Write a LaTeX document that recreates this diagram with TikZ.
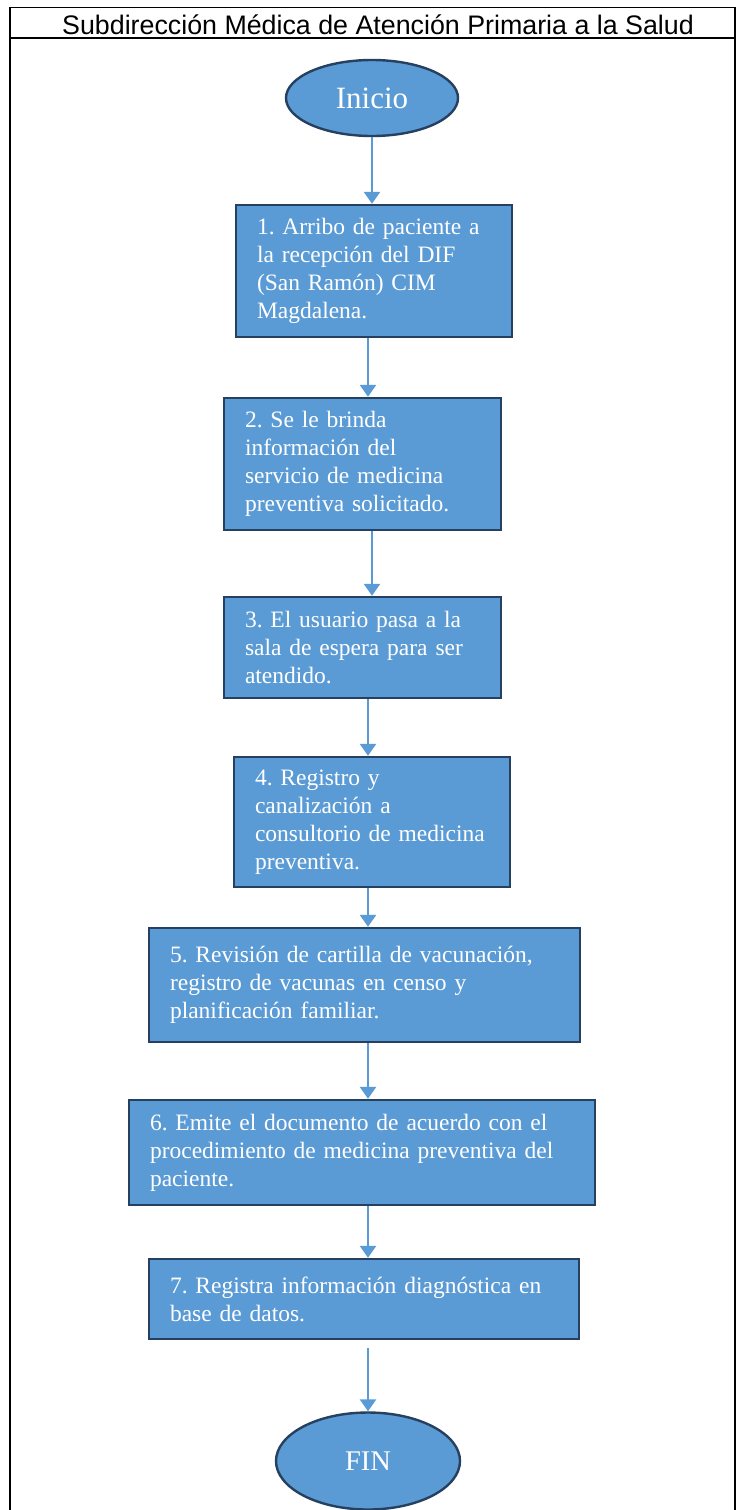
\documentclass[tikz,border=0pt]{standalone}
\usepackage{fontspec}
\usepackage{xcolor}
\usepackage{tikz}
\usetikzlibrary{arrows.meta}
\usetikzlibrary{shapes}
\usetikzlibrary{positioning}
\setmainfont{Liberation Serif}
\newfontfamily\headfont{Liberation Sans}
\definecolor{boxblue}{HTML}{5B9BD5}
\definecolor{boxline}{RGB}{38,64,96}
\frenchspacing

\begin{document}
\begin{tikzpicture}[x=1pt,y=-1pt,
		frame/.style={line width=1.8pt,black},
		stepbox/.style={draw=boxline,fill=boxblue,line width=2.4pt,text=white,align=left,
			inner xsep=21pt,inner ysep=0pt,font=\fontsize{23.5}{28}\selectfont},
		term/.style={ellipse,draw=boxline,fill=boxblue,line width=2.4pt,text=white,inner sep=0pt},
		flow/.style={boxblue,line width=2.6pt,-{Triangle[length=12pt,width=16pt]}}]
			\useasboundingbox (0,0) rectangle (736,1510);
			\fill[white] (0,0) rectangle (736,1510);

			\draw[frame] (10,1512) -- (10,7.5) -- (735,7.5) -- (735,1512);
			\draw[frame] (10,38) -- (735,38);
			\node[anchor=base,inner sep=0pt] (head) at (378,34) {\headfont\fontsize{26.8}{30}\selectfont Subdirección Médica de Atención Primaria a la Salud};

			\node[term,minimum width=172pt,minimum height=76pt,font=\fontsize{31}{33}\selectfont] (inicio) at (372,98) {Inicio};
			\node[stepbox,text width=234pt,minimum height=132pt] (b1) at (374,271) {1. Arribo de paciente a\\la recepción del DIF\\(San Ramón) CIM\\Magdalena.};
			\node[stepbox,text width=235pt,minimum height=132pt] (b2) at (362.5,464) {2. Se le brinda\\información del\\servicio de medicina\\preventiva solicitado.};
			\node[stepbox,text width=235pt,minimum height=101pt] (b3) at (362.5,647.5) {3. El usuario pasa a la\\sala de espera para ser\\atendido.};
			\node[stepbox,text width=234pt,minimum height=130pt] (b4) at (372,822) {4. Registro y\\canalización a\\consultorio de medicina\\preventiva.};
			\node[stepbox,text width=389pt,minimum height=114pt] (b5) at (364.5,985) {5. Revisión de cartilla de vacunación,\\registro de vacunas en censo y\\planificación familiar.};
			\node[stepbox,text width=424pt,minimum height=105pt] (b6) at (362,1152.5) {6. Emite el documento de acuerdo con el\\procedimiento de medicina preventiva del\\paciente.};
			\node[stepbox,text width=388pt,minimum height=80pt] (b7) at (364,1299) {7. Registra información diagnóstica en\\base de datos.};
			\node[term,minimum width=184pt,minimum height=97pt,font=\fontsize{28.5}{30}\selectfont] (fin) at (368,1461) {FIN};
			\coordinate (e7) at (368,1348);

			\draw[flow] (inicio.south -| 372,0) -- (b1.north -| 372,0);
			\draw[flow] (b1.south -| 368,0) -- (b2.north -| 368,0);
			\draw[flow] (b2.south -| 372,0) -- (b3.north -| 372,0);
			\draw[flow] (b3.south -| 368,0) -- (b4.north -| 368,0);
			\draw[flow] (b4.south -| 368,0) -- (b5.north -| 368,0);
			\draw[flow] (b5.south -| 368,0) -- (b6.north -| 368,0);
			\draw[flow] (b6.south -| 368,0) -- (b7.north -| 368,0);
			\draw[flow] (e7) -- (fin.north -| 368,0);
		\end{tikzpicture}
\end{document}
